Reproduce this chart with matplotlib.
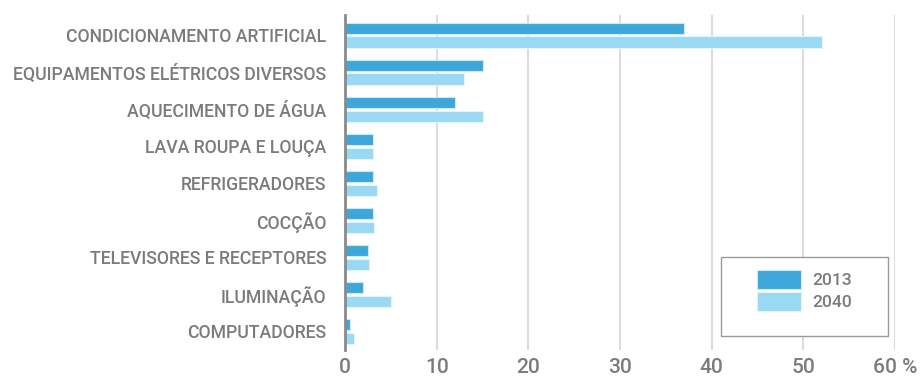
import matplotlib.pyplot as plt
from matplotlib.patches import Rectangle
import numpy as np

categories = ['CONDICIONAMENTO ARTIFICIAL', 'EQUIPAMENTOS ELÉTRICOS DIVERSOS',
              'AQUECIMENTO DE ÁGUA', 'LAVA ROUPA E LOUÇA', 'REFRIGERADORES',
              'COCÇÃO', 'TELEVISORES E RECEPTORES', 'ILUMINAÇÃO', 'COMPUTADORES']
values_2013 = [37.0, 15.0, 12.0, 3.0, 3.0, 3.0, 2.5, 2.0, 0.5]
values_2040 = [52.0, 13.0, 15.0, 3.1, 3.5, 3.2, 2.6, 5.0, 1.0]
xticks = [0, 10, 20, 30, 40, 50, 60]
xtick_labels = ['0', '10', '20', '30', '40', '50', '60 %']

plt.rcParams['font.family'] = ['Roboto', 'DejaVu Sans']
text_gray = '#7b7b7b'
c2013 = '#3ea7d9'
c2040 = '#9ad9f4'

W, H = 921, 376
fig = plt.figure(figsize=(W / 100, H / 100), dpi=100)
ax = fig.add_axes([345 / W, 1 - 350 / H, 550 / W, 335 / H])

y = np.arange(len(categories))
h = 0.3
ax.barh(y - 0.18, values_2013, height=h, color=c2013, edgecolor='#cdeaf7',
        linewidth=0.8, label='2013', zorder=3)
ax.barh(y + 0.19, values_2040, height=h, color=c2040, edgecolor='#e3f4fb',
        linewidth=0.8, label='2040', zorder=3)

ax.set_xlim(0, 60)
ax.set_ylim(8.51, -0.54)
ax.set_yticks(y)
ax.set_yticklabels(categories, fontsize=12.7, fontweight='medium', color=text_gray)
ax.set_xticks(xticks)
ax.set_xticklabels(xtick_labels, fontsize=15, fontweight='medium', color=text_gray)
ax.tick_params(axis='both', length=0)
ax.tick_params(axis='y', pad=13.5)
ax.tick_params(axis='x', pad=5.5)

ax.grid(axis='x', color='#dcdcdc', linewidth=1.5, zorder=0)
for s in ['top', 'right', 'bottom']:
    ax.spines[s].set_visible(False)
ax.spines['left'].set_color('#8a8a8a')
ax.spines['left'].set_linewidth(2)
ax.spines['left'].set_zorder(4)

# legend box drawn separately so the entries can sit inside with wide margins
frame = Rectangle((721 / W, 1 - 336 / H), 167 / W, 79 / H, transform=fig.transFigure,
                  facecolor='white', edgecolor='#9a9a9a', linewidth=1, zorder=5)
ax.add_artist(frame)
frame.set_clip_on(False)

leg = ax.legend(loc='upper left', bbox_to_anchor=(757 / W, 1 - 270 / H),
                bbox_transform=fig.transFigure, frameon=False,
                handlelength=2.5, handleheight=1.25, labelspacing=0.2,
                borderpad=0, handletextpad=0.65, borderaxespad=0,
                prop={'weight': 'medium', 'size': 12.6})
leg.set_zorder(6)
for t in leg.get_texts():
    t.set_color(text_gray)

fig.savefig('out.png', dpi=100)
